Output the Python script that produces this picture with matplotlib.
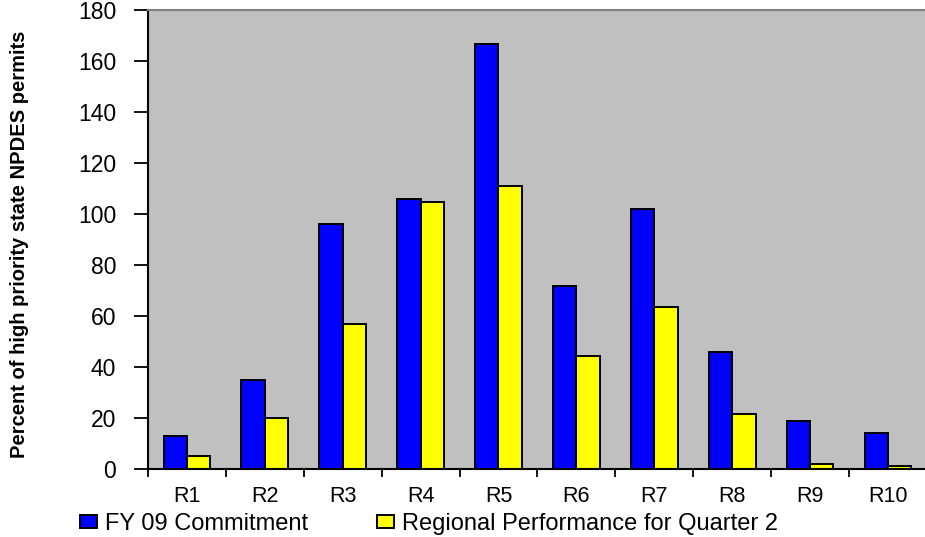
import numpy as np
import matplotlib
matplotlib.use('Agg')
import matplotlib.pyplot as plt
from matplotlib.ticker import MultipleLocator, FixedLocator

# values
regions = ['R1', 'R2', 'R3', 'R4', 'R5', 'R6', 'R7', 'R8', 'R9', 'R10']
fy09_commitment = [13, 35, 96, 106, 167, 72, 102, 46, 19, 14]
q2_performance = [5, 20, 57, 105, 111, 44.5, 63.5, 21.5, 2, 1]

plt.rcParams['font.family'] = ['Liberation Sans', 'DejaVu Sans']

fig = plt.figure(figsize=(9.25, 5.37), dpi=100)
ax = fig.add_axes([0.160, 0.1266, 0.842, 0.854])

x = np.arange(len(regions))
w = 0.3
b1 = ax.bar(x - w / 2, fy09_commitment, w, color='#0000FF', edgecolor='black',
            linewidth=1.4, label='FY 09 Commitment')
b2 = ax.bar(x + w / 2, q2_performance, w, color='#FFFF00', edgecolor='black',
            linewidth=1.4, label='Regional Performance for Quarter 2')

ax.set_facecolor('#C0C0C0')
ax.set_xlim(-0.5, len(regions) - 0.5)
ax.set_ylim(0, 180)

# y axis
ax.yaxis.set_major_locator(MultipleLocator(20))
ax.tick_params(axis='y', direction='out', length=10, width=1.3, pad=13,
               labelsize=16.5)

# x axis: ticks between groups, labels at the centres
ax.set_xticks(x)
ax.set_xticklabels(regions)
ax.xaxis.set_minor_locator(FixedLocator(np.arange(-0.5, len(regions), 1.0)))
ax.tick_params(axis='x', which='major', length=0, pad=12, labelsize=15.5)
ax.tick_params(axis='x', which='minor', direction='out', length=6, width=1.3)

for side in ['left', 'bottom']:
    ax.spines[side].set_linewidth(1.5)
    ax.spines[side].set_color('black')
ax.spines['top'].set_color('#808080')
ax.spines['top'].set_linewidth(1.5)
ax.spines['right'].set_visible(False)

fig.text(0.021, 0.545, 'Percent of high priority state NPDES permits',
         rotation=90, ha='center', va='center', fontsize=14.5,
         fontweight='bold')

# two legend entries placed separately, as in the reference
leg_kw = dict(loc='center left', frameon=False, fontsize=17,
              handlelength=0.72, handleheight=0.45, handletextpad=0.35,
              borderpad=0, borderaxespad=0)
fig.legend(handles=[b1], bbox_to_anchor=(0.0865, 0.024), **leg_kw)
fig.legend(handles=[b2], bbox_to_anchor=(0.4076, 0.024), **leg_kw)

fig.savefig('out.png', dpi=100)
